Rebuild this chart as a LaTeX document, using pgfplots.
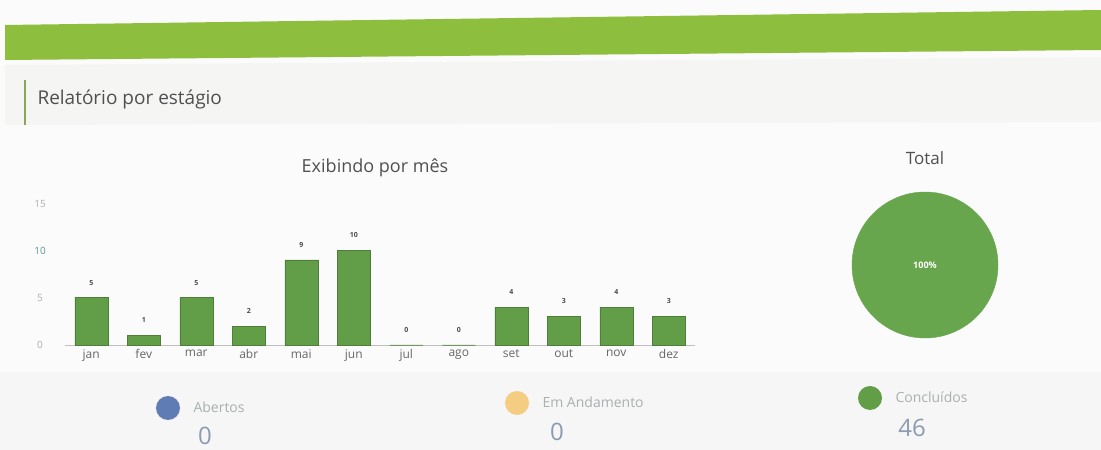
\documentclass[border=0pt]{standalone}
\usepackage{pgfplots}
\pgfplotsset{compat=1.18}
\usepackage{fontspec}
\setmainfont{Open Sans}
\definecolor{band}{RGB}{141,190,62}
\definecolor{barg}{RGB}{98,158,72}
\definecolor{pieg}{RGB}{104,166,78}
\definecolor{panel}{RGB}{245,246,244}
\definecolor{txt}{RGB}{80,80,80}
\definecolor{lt}{RGB}{170,175,175}
\definecolor{blu}{RGB}{95,125,180}
\definecolor{yel}{RGB}{245,205,130}
\begin{document}
\begin{tikzpicture}[x=1pt,y=1pt]
\fill[white!97!gray] (0,0) rectangle (1101,450);
% green band (slanted)
\fill[band] (5,425) -- (1101,440) -- (1101,400) -- (5,390) -- cycle;
% header panel
\fill[panel] (5,385) -- (1101,393) -- (1101,328) -- (5,325) -- cycle;
\draw[band!60!gray, line width=1.2pt] (25,370) -- (25,325);
\node[anchor=west, font=\fontsize{19}{22}\selectfont, text=txt] at (34,350) {Relatório por estágio};
% bottom panel
\fill[white!93!gray] (0,0) rectangle (1101,78);
% bar chart
\node[font=\fontsize{18}{22}\selectfont, text=txt] at (375,282) {Exibindo por mês};
\begin{axis}[
  at={(65pt,105pt)}, anchor=south west,
  scale only axis, width=630pt, height=142pt,
  xmin=-0.5, xmax=11.5, ymin=0, ymax=15,
  xtick={0,...,11},
  xticklabels={jan,fev,mar,abr,mai,jun,jul,ago,set,out,nov,dez},
  ytick={0,5,10,15},
  yticklabels={},
  minor ytick={2.5,7.5,12.5},
  ymajorgrids, yminorgrids,
  major grid style={gray!15},
  minor grid style={gray!12},
  axis x line*=bottom, axis y line=none,
  x axis line style={gray!50},
  major tick length=0pt,
  tick style={draw=none},
  xticklabel style={font=\fontsize{12}{14}\selectfont, text=gray!80!black, yshift=-1pt},
  /pgf/number format/assume math mode=true,
  clip=false,
]
\addplot[ybar, bar width=33pt, fill=barg, draw=barg!80!black,
  nodes near coords, every node near coord/.append style={font=\fontsize{7}{8}\selectfont\bfseries, text=black!70, yshift=9pt}]
  coordinates {(0,5)(1,1)(2,5)(3,2)(4,9)(5,10)(6,0)(7,0)(8,4)(9,3)(10,4)(11,3)};
\end{axis}
% y tick labels placed at left like reference
\node[font=\fontsize{10}{12}\selectfont, text=lt] at (40,105) {0};
\node[font=\fontsize{10}{12}\selectfont, text=lt] at (40,152) {5};
\node[font=\fontsize{10}{12}\selectfont, text=teal!50!lt] at (40,199) {10};
\node[font=\fontsize{10}{12}\selectfont, text=lt] at (40,246) {15};
% pie
\node[font=\fontsize{17}{20}\selectfont, text=txt] at (925,292) {Total};
\begin{axis}[
  at={(925pt,185pt)}, anchor=center,
  scale only axis, width=160pt, height=160pt,
  xmin=-1, xmax=1, ymin=-1, ymax=1,
  hide axis, clip=false,
]
\addplot[only marks, mark=*, mark size=73pt, color=pieg,
  nodes near coords={100\%}, every node near coord/.append style={anchor=center, font=\fontsize{9}{10}\selectfont\bfseries, text=white}]
  coordinates {(0,0)};
\end{axis}
% status summary
\fill[blu] (168,42) circle (12);
\node[anchor=west, font=\fontsize{14}{16}\selectfont, text=lt] at (190,43) {Abertos};
\node[font=\fontsize{24}{28}\selectfont, text=blu!40!lt] at (205,14) {0};
\fill[yel] (517,47) circle (12);
\node[anchor=west, font=\fontsize{14}{16}\selectfont, text=lt] at (539,48) {Em Andamento};
\node[font=\fontsize{24}{28}\selectfont, text=blu!40!lt] at (557,18) {0};
\fill[barg] (870,52) circle (12);
\node[anchor=west, font=\fontsize{14}{16}\selectfont, text=lt] at (892,53) {Concluídos};
\node[font=\fontsize{24}{28}\selectfont, text=blu!40!lt] at (912,22) {46};
\end{tikzpicture}
\end{document}
